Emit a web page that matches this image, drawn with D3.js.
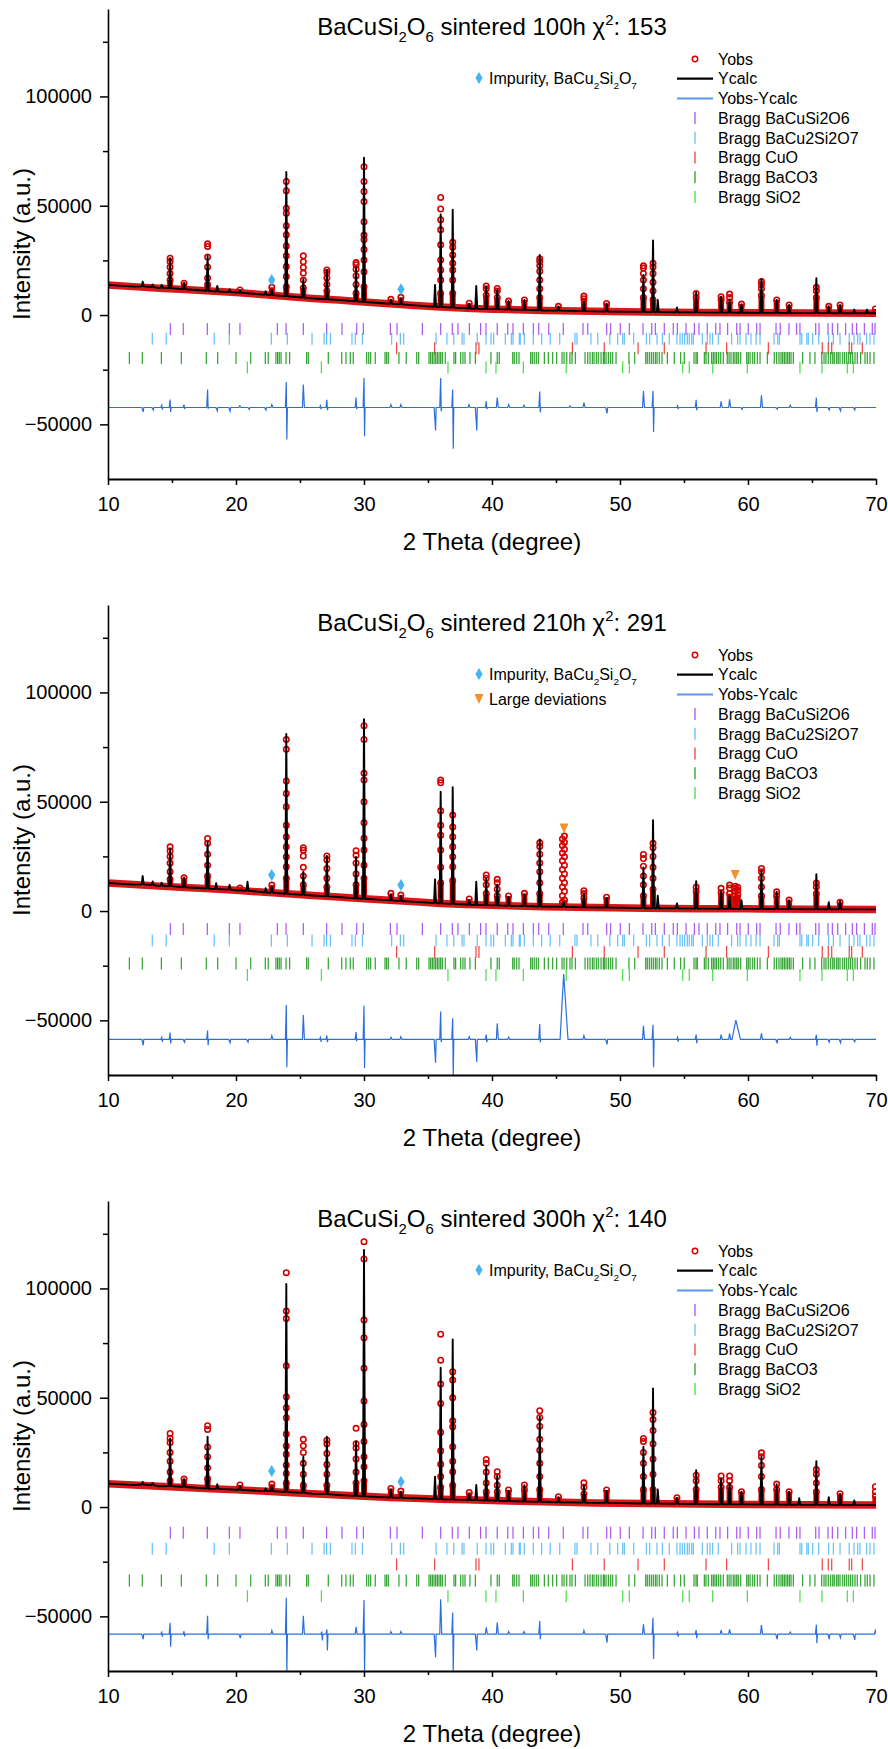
<!DOCTYPE html>
<html>
<head>
<meta charset="utf-8">
<script src="https://cdn.jsdelivr.net/npm/d3@7"></script>
<style>
  body { margin: 0; background: #fff; }
  svg text { font-family: "Liberation Sans", Arial, sans-serif; fill: #000; }
</style>
</head>
<body>
<div id="chart"></div>
<script>
// ---- data ----
var hours = ["100h", "210h", "300h"];
var chi2 = [153, 291, 140];
var xTicks = [10, 20, 30, 40, 50, 60, 70];
var xMinor = [15, 25, 35, 45, 55, 65];
var yTicks = [-50000, 0, 50000, 100000];
var yMinor = [-25000, 25000, 75000, 125000];

// background under Yobs / Ycalc  [2theta, intensity]
var bg100 = [[10, 13800], [12, 13000], [14, 12300], [16, 11700], [18, 11000], [20, 10300], [22, 9400], [24, 8500], [26, 7600], [28, 6900], [30, 6000], [32, 5200], [34, 4400], [36, 3700], [38, 3100], [40, 2700], [44, 2100], [48, 1700], [52, 1400], [56, 1200], [60, 1050], [65, 900], [70, 800]];
var bg210 = [[10, 12800], [12, 12100], [14, 11400], [16, 10800], [18, 10200], [20, 9500], [22, 8700], [24, 7900], [26, 7100], [28, 6400], [30, 5600], [32, 4900], [34, 4200], [36, 3500], [38, 3000], [40, 2600], [44, 2000], [48, 1600], [52, 1300], [56, 1100], [60, 1000], [65, 850], [70, 750]];
var bg300 = [[10, 10700], [12, 10100], [14, 9500], [16, 8900], [18, 8400], [20, 7900], [22, 7300], [24, 6700], [26, 6100], [28, 5500], [30, 4900], [32, 4400], [34, 4000], [36, 3600], [38, 3300], [40, 3000], [44, 2400], [48, 1900], [52, 1600], [56, 1400], [60, 1200], [65, 1000], [70, 900]];

// Ycalc peaks  [2theta, base, top]
var calc100 = [[12.71, 13100, 15300], [13.49, 12800, 14000], [14.19, 12500, 13800], [14.85, 12300, 26000], [15.94, 11800, 14800], [17.78, 11100, 27000], [18.54, 10800, 13300], [19.50, 10500, 11800], [20.31, 10200, 11300], [22.32, 9300, 10900], [22.80, 9100, 11600], [23.93, 8600, 65500], [25.26, 8000, 16400], [27.10, 7200, 20600], [29.38, 6300, 21700], [30.00, 6000, 72000], [32.10, 5200, 7000], [32.88, 4900, 7600], [35.55, 3800, 13800], [35.99, 3700, 46000], [36.93, 3400, 48200], [38.22, 3000, 5200], [38.77, 2900, 13300], [39.55, 2800, 12800], [40.41, 2700, 11500], [41.29, 2550, 6400], [42.53, 2400, 6900], [43.73, 2200, 27500], [45.19, 2000, 4000], [47.18, 1800, 6100], [48.95, 1650, 5300], [51.83, 1450, 18300], [52.58, 1400, 34100], [52.95, 1400, 6900], [54.45, 1300, 3500], [55.95, 1200, 10500], [57.90, 1100, 8400], [58.56, 1100, 7000], [59.49, 1050, 5000], [61.05, 1000, 16400], [62.24, 1000, 6900], [63.21, 950, 4600], [65.34, 900, 16800], [66.31, 900, 4000], [67.19, 850, 4600], [68.30, 800, 2500], [69.30, 800, 2500]];
var calc210 = [[12.71, 12200, 16000], [13.49, 11900, 13500], [14.19, 11600, 13000], [14.85, 11400, 28500], [15.94, 10900, 15200], [17.78, 10300, 31700], [18.45, 10100, 12700], [19.50, 9800, 11900], [20.90, 9300, 13400], [22.32, 8500, 10500], [22.80, 8400, 11000], [23.93, 7900, 81000], [25.26, 7400, 18000], [27.10, 6700, 25200], [29.38, 5800, 24800], [30.00, 5600, 87800], [32.10, 4900, 7500], [32.88, 4600, 7000], [35.55, 3700, 14500], [35.99, 3500, 54600], [36.93, 3300, 56600], [38.22, 2900, 5000], [38.77, 2800, 13400], [39.55, 2700, 14900], [40.41, 2600, 12000], [41.29, 2450, 6500], [42.53, 2300, 7500], [43.73, 2100, 32800], [45.60, 1950, 4000], [47.18, 1700, 8000], [48.95, 1600, 6000], [51.83, 1350, 20000], [52.58, 1300, 41600], [52.95, 1300, 7000], [54.45, 1200, 3500], [55.95, 1100, 13700], [57.90, 1050, 9000], [58.56, 1050, 7000], [59.49, 1000, 5000], [61.05, 950, 18500], [62.24, 950, 8800], [63.21, 900, 5000], [65.34, 850, 16800], [66.31, 850, 4000], [67.19, 800, 4500]];
var calc300 = [[12.71, 10300, 11500], [13.49, 10000, 11000], [14.85, 9600, 31400], [15.94, 9200, 12800], [17.78, 8500, 32200], [18.54, 8300, 10500], [20.31, 7900, 9500], [22.32, 7400, 8500], [22.80, 7300, 9500], [23.93, 6900, 102000], [25.26, 6500, 23000], [27.10, 5900, 32200], [29.38, 5100, 30000], [30.00, 4900, 117600], [32.10, 4400, 8000], [32.88, 4200, 7000], [35.55, 3700, 13900], [35.99, 3600, 63700], [36.93, 3400, 76700], [38.22, 3200, 6000], [38.77, 3150, 10100], [39.55, 3000, 19000], [40.41, 2850, 14500], [41.29, 2750, 7500], [42.53, 2550, 10000], [43.73, 2400, 41300], [45.19, 2200, 4500], [47.18, 2000, 10000], [48.95, 1900, 7500], [51.83, 1650, 27600], [52.58, 1600, 54300], [52.95, 1600, 8000], [54.45, 1500, 4300], [55.95, 1400, 16900], [57.90, 1300, 13000], [58.56, 1250, 11000], [59.49, 1200, 7000], [61.05, 1150, 23000], [62.24, 1100, 10500], [63.21, 1050, 7000], [64.00, 1050, 4000], [65.34, 1000, 21000], [66.31, 1000, 4500], [67.19, 950, 6000], [68.30, 950, 3000]];

// Yobs peaks  [2theta, base, [observed points on the peak]]
var obs100 = [[14.85, 12300, [26000, 24500, 22000, 19000, 16000]], [15.94, 11800, [14600]], [17.78, 11100, [32600, 31400, 26500, 22000, 17000, 14000]], [20.31, 10200, [11500]], [22.80, 9100, [12700]], [23.93, 8600, [61100, 56900, 48900, 46600, 40900, 36700, 31600, 27100, 22200, 17600, 13000]], [25.26, 8000, [27100, 24400, 21800, 19200, 16000, 12500]], [27.10, 7200, [20600, 19500, 17000, 14000, 11000]], [29.38, 6300, [24000, 23000, 21000, 18000, 14000, 10000]], [30.00, 6000, [67800, 61100, 56500, 51900, 42700, 36600, 34600, 30000, 25200, 19800, 12900]], [32.10, 5200, [7200]], [32.88, 4900, [8100]], [35.99, 3700, [53800, 48500, 43600, 39000, 32100, 25200, 20600, 16000, 10000]], [36.93, 3400, [33300, 31000, 27500, 23700, 20600, 16000, 10000]], [38.22, 3000, [5400]], [39.55, 2800, [13300, 12000, 9000]], [40.41, 2700, [12200, 11000, 8000]], [41.29, 2550, [6400]], [42.53, 2400, [6900]], [43.73, 2200, [25700, 24500, 22500, 20000, 16000, 12000, 8000]], [45.19, 2000, [4000]], [47.18, 1800, [8700, 7500]], [48.95, 1650, [5300]], [51.83, 1450, [22500, 21500, 19000, 16000, 12000, 8000]], [52.58, 1400, [23700, 22000, 19000, 15000, 11000, 7000]], [55.95, 1200, [9900, 8000]], [57.90, 1100, [8400, 7000]], [58.56, 1100, [9600, 8000, 6000]], [59.49, 1050, [5000]], [61.05, 1000, [15300, 14000, 12000, 9000]], [62.24, 1000, [6900]], [63.21, 950, [4600]], [65.34, 900, [12700, 11000, 8000]], [66.31, 900, [4000]], [67.19, 850, [4600]], [69.95, 800, [2800]]];
var obs210 = [[14.85, 11400, [29400, 27500, 25000, 22000, 18000, 14500]], [15.94, 10900, [15200]], [17.78, 10300, [33200, 31000, 26000, 21000, 16000]], [20.31, 9500, [10500]], [22.80, 8400, [11900]], [23.93, 7900, [78500, 74000, 59500, 53800, 47700, 39300, 34000, 29400, 24800, 20300, 15000]], [25.26, 7400, [29000, 27800, 25200, 20000, 16000, 12000]], [27.10, 6700, [25200, 23500, 19500, 15000, 11000]], [29.38, 5800, [27600, 25500, 22000, 17000, 12000]], [30.00, 5600, [84800, 78500, 63000, 60000, 50000, 40400, 33300, 27900, 21000, 15000]], [32.10, 4900, [8100]], [32.88, 4600, [7300]], [35.99, 3500, [59900, 58700, 45900, 39300, 34700, 27900, 20000, 13000]], [36.93, 3300, [43900, 38500, 34000, 29400, 24800, 20300, 14000]], [38.22, 2900, [5500]], [39.55, 2700, [16500, 15000, 12000, 8000]], [40.41, 2600, [14500, 13000, 10000, 7000]], [41.29, 2450, [6900]], [42.53, 2300, [8100]], [43.73, 2100, [31200, 29500, 26000, 22000, 18000, 13000, 8000]], [45.50, 1950, [33000, 30000, 26500, 23000, 19000, 15000, 11000, 7000, 4000]], [45.66, 1950, [34300, 31500, 28300, 24800, 21000, 17000, 13000, 9000, 5000]], [47.18, 1700, [9300, 8000, 6000]], [48.95, 1600, [6300]], [51.83, 1350, [25900, 24000, 20500, 16000, 12000, 7000]], [52.58, 1300, [31000, 29000, 25000, 20000, 15000, 10000]], [55.95, 1100, [11000, 9000]], [57.90, 1050, [10400, 8500]], [58.56, 1050, [11900, 10500, 8000]], [59.00, 1000, [11400, 10400, 9000, 7000]], [59.20, 1000, [10900, 9500, 7500]], [61.05, 950, [19500, 18000, 15000, 11000, 7000]], [62.24, 950, [8800, 7000]], [63.21, 900, [5000]], [65.34, 850, [12800, 11000, 8000]], [67.19, 800, [4000]]];
var obs300 = [[14.85, 9600, [33700, 31500, 29500, 25000, 21000, 16000, 12000]], [15.94, 9200, [12800]], [17.78, 8500, [37200, 35500, 27500, 23000, 18000, 13000]], [20.31, 7900, [10100]], [22.80, 7300, [10500]], [23.93, 6900, [107200, 89700, 86300, 64600, 50500, 45400, 40900, 33400, 27900, 24100, 19200, 15400, 11000]], [25.26, 6500, [31000, 28000, 25000, 20000, 15000, 10000]], [27.10, 5900, [30600, 29000, 24500, 19500, 15000, 10000]], [29.38, 5100, [36000, 29000, 27000, 22000, 16000, 11000]], [30.00, 4900, [121400, 113500, 85600, 77500, 63500, 48500, 37800, 30000, 23000, 18400, 12000]], [32.10, 4400, [8500]], [32.88, 4200, [7300]], [35.99, 3600, [79100, 67200, 56300, 47400, 34200, 25800, 19600, 14000, 9000]], [36.93, 3400, [61900, 58100, 50000, 39500, 36700, 27600, 21000, 16200, 10000]], [38.22, 3200, [6700]], [39.55, 3000, [21800, 20000, 16000, 11000, 7000]], [40.41, 2850, [16200, 14000, 10000, 7000]], [41.29, 2750, [7800]], [42.53, 2550, [10100, 8000]], [43.73, 2400, [44100, 41000, 37000, 31000, 26000, 20000, 14000, 8000]], [45.19, 2200, [4700]], [47.18, 2000, [11100, 9000, 6000]], [48.95, 1900, [7800]], [51.83, 1650, [31400, 30000, 25000, 20000, 14000, 8000]], [52.58, 1600, [43300, 40000, 35000, 29000, 22000, 15000, 8000]], [54.45, 1500, [4300]], [55.95, 1400, [14600, 12000, 8000]], [57.90, 1300, [14200, 12000, 9000]], [58.56, 1250, [14200, 12000, 9000]], [59.49, 1200, [7000]], [61.05, 1150, [24800, 23000, 19000, 14000, 8000]], [62.24, 1100, [10500, 8000]], [63.21, 1050, [7000]], [65.34, 1000, [17200, 15000, 11000, 7000]], [67.19, 950, [6100]], [69.95, 900, [9300, 7000, 5000]]];

// Yobs-Ycalc  level, then spikes [2theta, max, min, halfwidth]
var diffLevel = [-42300, -58700, -58100];
var diff100 = [[12.71, null, -44300], [13.50, null, -43500], [14.20, -41300, -43200], [14.85, -38700, -44300], [15.94, -41000, -43000], [17.78, -34100, -42800], [18.50, null, -43800], [19.50, null, -44000], [20.30, -41500, null], [21.00, null, -43200], [22.30, null, -43500], [22.80, -41000, null], [23.93, -30600, -56900], [25.26, -31800, null], [26.60, -41500, -43000], [27.10, -38800, -43500], [29.38, -37700, -43000], [30.00, -28800, -55400], [32.10, -41000, null], [32.88, -41000, null], [35.55, null, -52800], [35.99, -28800, -44000], [36.93, -34100, -61200], [38.20, -41000, null], [38.77, null, -52800], [39.55, -39500, -43000], [40.41, -37700, null], [41.30, -41000, null], [42.50, -41300, null], [43.73, -35000, -44500], [46.10, -41500, null], [47.18, -40000, null], [48.95, null, -45000], [51.83, -34800, null], [52.58, -34800, -53500], [54.50, -41500, -43000], [55.95, -38800, -43500], [57.90, -39500, null], [58.56, -38500, null], [59.50, null, -43200], [61.05, -36700, null], [62.24, null, -43000], [63.30, -41300, null], [65.34, -37800, -44300], [66.31, null, -43500], [67.19, null, -43800], [68.30, null, -43500]];
var diff210 = [[12.71, null, -61400], [14.20, -57800, -59800], [14.85, -55600, -60600], [15.94, null, -60000], [17.78, -54700, -61400], [19.50, null, -60300], [20.90, null, -60000], [22.80, -57000, null], [23.93, -43000, -71500], [25.26, -47600, null], [26.60, -57800, -59800], [27.10, -56900, -60000], [29.38, -55300, -59500], [30.00, -43300, -71800], [32.10, -57700, null], [32.88, -57500, null], [35.55, null, -69400], [35.99, -46000, -60000], [36.93, -49000, -76000], [38.22, -57500, null], [38.77, null, -69000], [39.55, -56500, -60000], [40.41, -51400, null], [41.30, -57700, null], [43.73, -51700, -60000], [45.60, -28800, null, 0.28], [47.18, -57000, null], [48.95, null, -61000], [51.83, -52500, null], [52.58, -52000, -71500], [54.50, -57800, -59800], [55.95, -56500, -60500], [57.90, -56500, null], [58.56, -56000, null], [59.05, -49900, null, 0.3], [61.05, -56000, null], [62.24, null, -60500], [63.30, -57800, null], [65.34, -56600, -61600], [66.31, null, -60000], [67.19, null, -60300], [68.30, null, -59800]];
var diff300 = [[12.71, null, -60500], [14.20, -57300, -59300], [14.85, -52900, -63900], [15.94, -56800, -59200], [17.78, -49700, -60500], [20.30, null, -60000], [22.80, -56500, null], [23.93, -41500, -76000], [25.26, -49700, null], [26.70, -57000, -61000], [27.10, -56000, -65600], [29.38, -54800, null], [30.00, -42500, -76000], [32.10, -57000, null], [32.88, -57000, null], [35.55, null, -68700], [35.99, -42200, null], [36.93, -48300, -76000], [38.77, null, -65600], [39.55, -55000, null], [40.41, -52800, null], [41.30, -57000, null], [42.50, -57000, null], [43.73, -52100, -60500], [47.18, -56500, null], [48.95, null, -62000], [51.83, -53600, null], [52.58, -50700, -69500], [54.50, -57300, -59300], [55.95, -56300, -60000], [57.90, -56300, null], [58.56, -56000, null], [61.05, -54000, null], [62.24, null, -60500], [63.30, -57200, null], [65.34, -53800, -62300], [66.31, null, -60500], [67.19, null, -59800], [68.30, null, -60800], [69.95, -56500, null]];

// markers  [2theta, intensity]
var impurity100 = [[22.79, 16000], [32.89, 11800]];
var impurity210 = [[22.79, 16500], [32.89, 11900]];
var impurity300 = [[22.79, 16500], [32.89, 11600]];
var deviations210 = [[45.63, 37800], [59.00, 16500]];

// Bragg reflection positions (2theta)
var braggBaCuSi2O6 = [14.87, 15.88, 17.76, 19.48, 20.31, 23.23, 23.91, 25.26, 27.08, 28.28, 29.43, 29.95, 32.06, 32.58, 34.56, 35.99, 36.90, 37.34, 38.23, 39.11, 39.53, 40.41, 41.23, 41.64, 42.45, 43.23, 43.65, 44.43, 45.57, 47.11, 47.48, 48.96, 49.27, 50.02, 50.73, 51.80, 52.48, 52.76, 53.46, 54.16, 54.48, 55.16, 55.81, 56.17, 56.82, 57.48, 57.81, 58.41, 59.12, 59.38, 60.02, 60.68, 60.94, 62.19, 62.52, 63.20, 63.80, 64.06, 65.29, 65.55, 66.25, 66.59, 67.01, 67.63, 68.15, 68.49, 69.09, 69.71, 69.92];
var braggBaCu2Si2O7 = [13.46, 14.55, 18.30, 19.48, 22.76, 24.01, 25.94, 26.88, 27.08, 27.37, 29.06, 29.32, 29.87, 32.16, 32.84, 33.10, 35.63, 36.48, 37.01, 37.66, 37.81, 38.85, 39.53, 39.92, 40.13, 41.04, 41.51, 41.64, 42.13, 42.21, 42.52, 43.23, 43.88, 44.55, 45.29, 46.48, 46.64, 47.73, 48.26, 49.20, 49.82, 50.21, 50.34, 51.07, 52.06, 52.32, 52.89, 53.31, 53.85, 54.45, 54.69, 54.87, 55.05, 55.26, 55.41, 55.60, 55.73, 56.43, 56.82, 57.03, 57.24, 57.68, 58.72, 59.19, 59.38, 59.84, 60.23, 60.63, 60.94, 62.03, 62.32, 62.45, 64.06, 64.20, 64.59, 64.71, 65.05, 65.52, 66.30, 66.67, 67.19, 67.91, 68.28, 68.57, 68.75, 69.27, 69.53, 69.84];
var braggCuO = [32.55, 35.52, 38.75, 38.98, 46.28, 48.77, 51.41, 53.46, 56.72, 58.33, 61.59, 65.80, 66.27, 66.54, 67.91, 68.10, 68.93];
var braggBaCO3 = [11.67, 12.68, 14.17, 15.73, 17.68, 18.57, 20.00, 21.15, 22.29, 22.52, 23.12, 23.25, 23.38, 23.52, 23.91, 24.19, 25.52, 25.65, 27.21, 28.26, 28.59, 28.93, 29.16, 30.21, 30.37, 30.52, 30.88, 31.64, 31.77, 31.90, 32.73, 33.30, 34.12, 34.27, 35.08, 35.21, 35.34, 35.47, 35.60, 35.73, 35.86, 35.99, 36.12, 36.35, 37.03, 37.16, 37.55, 37.73, 37.89, 38.28, 38.70, 39.92, 40.41, 40.57, 41.62, 41.74, 41.93, 42.11, 43.02, 43.15, 43.30, 43.46, 43.62, 44.09, 44.40, 44.74, 45.05, 45.47, 45.63, 45.84, 46.09, 46.25, 46.51, 47.27, 47.48, 47.66, 47.84, 47.97, 48.15, 48.30, 48.52, 48.70, 48.77, 48.91, 49.09, 49.27, 49.43, 49.69, 50.70, 51.15, 52.01, 52.13, 52.29, 52.45, 52.60, 52.76, 52.89, 53.07, 53.28, 53.70, 54.24, 54.74, 55.02, 55.78, 55.94, 56.04, 56.59, 56.72, 56.90, 57.16, 57.29, 57.42, 57.55, 57.71, 57.87, 58.07, 58.38, 58.52, 58.67, 58.85, 58.98, 59.12, 59.24, 59.43, 59.90, 60.02, 60.16, 60.37, 60.52, 60.73, 60.94, 61.51, 62.05, 62.24, 62.42, 62.58, 62.71, 62.84, 62.97, 63.10, 63.23, 63.36, 63.54, 64.27, 64.84, 65.23, 65.76, 65.94, 66.09, 66.27, 66.46, 66.62, 66.74, 66.93, 67.05, 67.19, 67.40, 67.55, 67.71, 67.87, 68.02, 68.18, 68.36, 68.54, 68.80, 69.14, 69.32, 69.53, 69.84];
var braggSiO2 = [20.89, 26.67, 36.56, 39.53, 40.31, 42.45, 45.80, 50.21, 50.73, 54.90, 55.41, 57.24, 59.95, 64.06, 65.78, 67.76, 68.23];

var legendNames = ["Bragg BaCuSi2O6", "Bragg BaCu2Si2O7", "Bragg CuO", "Bragg BaCO3", "Bragg SiO2"];
var braggSets = [braggBaCuSi2O6, braggBaCu2Si2O7, braggCuO, braggBaCO3, braggSiO2];

// ---- layout / style ----
const W = 888, H = 1749;
const panelStep = 596;
const xLeft = 108, xRight = 876, yTop = 9, yBottom = 479;
const braggColors = ["#a044f0", "#55b9f5", "#f02e2e", "#179817", "#36da36"];
const obsColor = "#d40000";
const diffColor = "#2b6fdf";

// where the bragg rows sit in each panel (intensity units) and their spacing
var braggRows = [[-6400, -4400], [-8200, -5250], [-11800, -7250]];

var panels = [
  { bg: bg100, calc: calc100, obs: obs100, diff: diff100, imp: impurity100, dev: [] },
  { bg: bg210, calc: calc210, obs: obs210, diff: diff210, imp: impurity210, dev: deviations210 },
  { bg: bg300, calc: calc300, obs: obs300, diff: diff300, imp: impurity300, dev: [] }
];

var svg = d3.select("#chart").append("svg")
  .attr("width", W)
  .attr("height", H)
  .attr("viewBox", "0 0 " + W + " " + H);

// text with sub / superscripts; parts = [[text, "sub"|"sup"|undefined], ...]
function richText(t, parts, size) {
  var shift = 0;
  parts.forEach(function(p) {
    var target = p[1] == "sub" ? size * 0.3 : (p[1] == "sup" ? -size * 0.42 : 0);
    var ts = t.append("tspan").text(p[0]).attr("dy", target - shift);
    if (p[1]) ts.attr("font-size", size * 0.62);
    shift = target;
  });
}

function calcPoints(bg, peaks, hw) {
  var pts = bg.filter(function(b) {
    return !peaks.some(function(pk) { return Math.abs(pk[0] - b[0]) < hw * 2; });
  });
  peaks.forEach(function(pk) {
    pts.push([pk[0] - hw, pk[1]], [pk[0], pk[2]], [pk[0] + hw, pk[1]]);
  });
  pts.sort(function(a, b) { return a[0] - b[0]; });
  return pts;
}

function diffPoints(level, spikes) {
  var pts = [[10, level]];
  spikes.forEach(function(s) {
    var w = s[3] || 0.07;
    pts.push([s[0] - w, level]);
    if (s[1] != null) pts.push([s[0], s[1]]);
    if (s[2] != null) pts.push([s[0] + Math.min(w, 0.07) * 0.6, s[2]]);
    pts.push([s[0] + w * 1.2, level]);
  });
  pts.push([70, level]);
  return pts;
}

function drawPanel(p, i) {
  var g = svg.append("g").attr("transform", "translate(0," + (i * panelStep) + ")");

  var x = d3.scaleLinear().domain([10, 70]).range([xLeft, xRight]);
  var y = d3.scaleLinear().domain([-75000, 140000]).range([yBottom, yTop]);

  g.append("clipPath").attr("id", "clip" + i)
    .append("rect")
    .attr("x", xLeft).attr("y", yTop)
    .attr("width", xRight - xLeft).attr("height", yBottom - yTop);

  var plot = g.append("g").attr("clip-path", "url(#clip" + i + ")");

  var line = d3.line()
    .x(function(d) { return x(d[0]); })
    .y(function(d) { return y(d[1]); });

  // bragg tick rows
  braggSets.forEach(function(set, k) {
    var rowY = y(braggRows[i][0] + k * braggRows[i][1]);
    plot.append("g").selectAll("line")
      .data(set)
      .enter()
      .append("line")
      .attr("x1", function(d) { return x(d); })
      .attr("x2", function(d) { return x(d); })
      .attr("y1", rowY - 6)
      .attr("y2", rowY + 6)
      .style("stroke", braggColors[k])
      .style("stroke-width", 1.2)
      .style("opacity", 0.9);
  });

  // Yobs: dense band of points along the background
  plot.append("path")
    .datum(p.bg)
    .attr("d", line)
    .style("fill", "none")
    .style("stroke", obsColor)
    .style("stroke-width", 7.5)
    .style("opacity", 0.9);

  var pk = plot.append("g").selectAll("g")
    .data(p.obs)
    .enter()
    .append("g");

  pk.append("line")
    .attr("x1", function(d) { return x(d[0]); })
    .attr("x2", function(d) { return x(d[0]); })
    .attr("y1", function(d) { return y(d[1]); })
    .attr("y2", function(d) { return y(d3.min(d[2])); })
    .style("stroke", obsColor)
    .style("stroke-width", 6);

  pk.selectAll("circle")
    .data(function(d) { return d[2].map(function(v) { return [d[0], v]; }); })
    .enter()
    .append("circle")
    .attr("cx", function(d) { return x(d[0]); })
    .attr("cy", function(d) { return y(d[1]); })
    .attr("r", 2.7)
    .style("fill", "none")
    .style("stroke", obsColor)
    .style("stroke-width", 1.6);

  // Ycalc
  plot.append("path")
    .datum(calcPoints(p.bg, p.calc, 0.08))
    .attr("d", line)
    .style("fill", "none")
    .style("stroke", "#000")
    .style("stroke-width", 1.9)
    .style("stroke-linejoin", "round");

  // Yobs - Ycalc
  plot.append("path")
    .datum(diffPoints(diffLevel[i], p.diff))
    .attr("d", line)
    .style("fill", "none")
    .style("stroke", diffColor)
    .style("stroke-width", 1.2);

  // impurity diamonds and deviation triangles
  g.selectAll(".imp")
    .data(p.imp)
    .enter()
    .append("path")
    .attr("class", "imp")
    .attr("transform", function(d) { return "translate(" + x(d[0]) + "," + y(d[1]) + ")"; })
    .attr("d", "M0,-6L3.6,0L0,6L-3.6,0Z")
    .style("fill", "#45b4f2");

  g.selectAll(".dev")
    .data(p.dev)
    .enter()
    .append("path")
    .attr("class", "dev")
    .attr("transform", function(d) { return "translate(" + x(d[0]) + "," + y(d[1]) + ")"; })
    .attr("d", "M-4.5,-5L4.5,-5L0,5Z")
    .style("fill", "#f5902c");

  // axes
  var xAxis = g.append("g")
    .attr("transform", "translate(0," + yBottom + ")")
    .call(d3.axisBottom(x).tickValues(xTicks).tickSize(6).tickPadding(12).tickSizeOuter(0));
  g.append("g")
    .attr("transform", "translate(0," + yBottom + ")")
    .call(d3.axisBottom(x).tickValues(xMinor).tickSize(4).tickFormat("").tickSizeOuter(0))
    .select(".domain").remove();
  xAxis.select(".domain").style("stroke-width", 2.2);

  var yAxis = g.append("g")
    .attr("transform", "translate(" + xLeft + ",0)")
    .call(d3.axisLeft(y).tickValues(yTicks).tickSize(8).tickPadding(8).tickSizeOuter(0).tickFormat(d3.format("d")));
  g.append("g")
    .attr("transform", "translate(" + xLeft + ",0)")
    .call(d3.axisLeft(y).tickValues(yMinor).tickSize(5).tickFormat("").tickSizeOuter(0))
    .select(".domain").remove();
  yAxis.select(".domain").style("stroke-width", 1.6);

  g.selectAll(".tick line").style("stroke-width", 1.5);
  g.selectAll(".tick text")
    .style("font-family", "'Liberation Sans', Arial, sans-serif")
    .style("font-size", "20px");

  // titles
  var title = g.append("text")
    .attr("x", (xLeft + xRight) / 2)
    .attr("y", 35)
    .attr("text-anchor", "middle")
    .style("font-size", "24px");
  richText(title, [["BaCuSi"], ["2", "sub"], ["O"], ["6", "sub"], [" sintered " + hours[i] + " "], ["\u03c7"], ["2", "sup"], [": " + chi2[i]]], 24);

  g.append("text")
    .attr("x", (xLeft + xRight) / 2)
    .attr("y", 550)
    .attr("text-anchor", "middle")
    .style("font-size", "24px")
    .text("2 Theta (degree)");

  g.append("text")
    .attr("transform", "translate(30," + ((yTop + yBottom) / 2) + ") rotate(-90)")
    .attr("text-anchor", "middle")
    .style("font-size", "24px")
    .text("Intensity (a.u.)");

  // legend
  var lx = 695, ly = 59, ls = 19.7;
  var leg = g.append("g").style("font-size", "16px");
  leg.append("circle").attr("cx", lx).attr("cy", ly).attr("r", 2.7)
    .style("fill", "none").style("stroke", obsColor).style("stroke-width", 1.5);
  leg.append("line").attr("x1", 677).attr("x2", 713).attr("y1", ly + ls).attr("y2", ly + ls)
    .style("stroke", "#000").style("stroke-width", 2.2);
  leg.append("line").attr("x1", 677).attr("x2", 713).attr("y1", ly + 2 * ls).attr("y2", ly + 2 * ls)
    .style("stroke", "#5b98ea").style("stroke-width", 2);
  braggColors.forEach(function(c, k) {
    leg.append("line").attr("x1", lx).attr("x2", lx)
      .attr("y1", ly + (3 + k) * ls - 6).attr("y2", ly + (3 + k) * ls + 6)
      .style("stroke", c).style("stroke-width", 1.2);
  });
  ["Yobs", "Ycalc", "Yobs-Ycalc"].concat(legendNames).forEach(function(t, k) {
    leg.append("text").attr("x", 718).attr("y", ly + k * ls + 5.7).text(t);
  });

  leg.append("path")
    .attr("transform", "translate(479,78)")
    .attr("d", "M0,-6L3.6,0L0,6L-3.6,0Z")
    .style("fill", "#45b4f2");
  var imp = leg.append("text").attr("x", 489).attr("y", 83.7);
  richText(imp, [["Impurity, BaCu"], ["2", "sub"], ["Si"], ["2", "sub"], ["O"], ["7", "sub"]], 16);

  if (p.dev.length) {
    leg.append("path")
      .attr("transform", "translate(479,103)")
      .attr("d", "M-4.5,-5L4.5,-5L0,5Z")
      .style("fill", "#f5902c");
    leg.append("text").attr("x", 489).attr("y", 108.7).text("Large deviations");
  }
}

panels.forEach(drawPanel);
</script>
</body>
</html>
